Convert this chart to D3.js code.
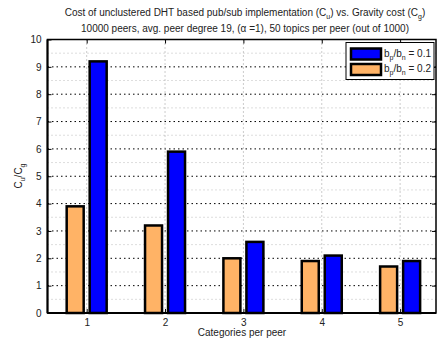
<!DOCTYPE html>
<html><head><meta charset="utf-8">
<script src="https://cdn.jsdelivr.net/npm/d3@7"></script>
<style>
body{margin:0;background:#fff;}
text{font-family:"Liberation Sans",Arial,Helvetica,sans-serif;fill:#222;}
</style></head>
<body>
<svg id="c" width="437" height="348"></svg>
<script>
const categories = [1, 2, 3, 4, 5];
const seriesNames = ["0.1", "0.2"];
const blueValues = [9.2, 5.9, 2.6, 2.1, 1.9];     // b_p/b_n = 0.1
const orangeValues = [3.9, 3.2, 2.0, 1.9, 1.7];   // b_p/b_n = 0.2
const yTicks = [0,1,2,3,4,5,6,7,8,9,10];
const minorTicks = [0.5,1.5,2.5,3.5,4.5,5.5,6.5,7.5,8.5,9.5];

const svg = d3.select("#c");
const L = 47.5, R = 436, T = 39.5, B = 313;
const x = d3.scaleLinear().domain([0.5, 5.5]).range([L, 439.3]);
const y = d3.scaleLinear().domain([0, 10]).range([B, T]);

// grid
const g = svg.append("g");
g.selectAll(".minor").data(minorTicks).enter().append("line")
  .attr("x1", L).attr("x2", R).attr("y1", d => y(d)).attr("y2", d => y(d))
  .attr("stroke", "#bbb").attr("stroke-width", 1).attr("stroke-dasharray", "1,3");
g.selectAll(".major").data(yTicks.slice(1,10)).enter().append("line")
  .attr("x1", L).attr("x2", R).attr("y1", d => y(d)).attr("y2", d => y(d))
  .attr("stroke", "#000").attr("stroke-width", 1).attr("stroke-dasharray", "1.5,3");
g.selectAll(".vg").data(categories).enter().append("line")
  .attr("x1", d => x(d)).attr("x2", d => x(d)).attr("y1", T).attr("y2", B)
  .attr("stroke", "#999").attr("stroke-width", 1).attr("stroke-dasharray", "1,3");

// bars
const bw = 17, off = 11.5;
const bars = svg.append("g");
bars.selectAll(".o").data(orangeValues).enter().append("rect")
  .attr("x", (d,i) => x(categories[i]) - off - bw/2).attr("width", bw)
  .attr("y", d => y(d)).attr("height", d => B - y(d))
  .attr("fill", "#ffb366").attr("stroke", "#000").attr("stroke-width", 2.5);
bars.selectAll(".b").data(blueValues).enter().append("rect")
  .attr("x", (d,i) => x(categories[i]) + off - bw/2).attr("width", bw)
  .attr("y", d => y(d)).attr("height", d => B - y(d))
  .attr("fill", "#0000ff").attr("stroke", "#000").attr("stroke-width", 2.5);

// frame
svg.append("rect").attr("x", L).attr("y", T).attr("width", R - L).attr("height", B - T)
  .attr("fill", "none").attr("stroke", "#000").attr("stroke-width", 1.5);
svg.append("line").attr("x1", L).attr("x2", L).attr("y1", T).attr("y2", B).attr("stroke", "#000").attr("stroke-width", 2);
svg.append("line").attr("x1", L).attr("x2", R).attr("y1", B).attr("y2", B).attr("stroke", "#000").attr("stroke-width", 2);

// axes (ticks inward)
const yAxis = d3.axisLeft(y).tickValues(yTicks).tickSize(-4).tickPadding(6).tickFormat(d3.format("d"));
const ya = svg.append("g").attr("transform", `translate(${L},0)`).call(yAxis);
ya.select(".domain").remove();
ya.selectAll("text").attr("font-size", 10).attr("fill", "#222");
svg.append("g").attr("transform", `translate(${R},0)`).call(d3.axisRight(y).tickValues(yTicks.slice(1,10)).tickSize(-4).tickFormat(""))
  .select(".domain").remove();
const xAxis = d3.axisBottom(x).tickValues(categories).tickSize(-4).tickPadding(6).tickFormat(d3.format("d"));
const xa = svg.append("g").attr("transform", `translate(0,${B})`).call(xAxis);
xa.select(".domain").remove();
xa.selectAll("text").attr("font-size", 10).attr("fill", "#222");
svg.append("g").attr("transform", `translate(0,${T})`).call(d3.axisTop(x).tickValues(categories).tickSize(-4).tickFormat(""))
  .select(".domain").remove();

// titles
const t1 = svg.append("text").attr("x", 245).attr("y", 16).attr("text-anchor", "middle").attr("font-size", 10);
t1.append("tspan").text("Cost of unclustered DHT based pub/sub implementation (C");
t1.append("tspan").attr("font-size", 7).attr("dy", 3).text("u");
t1.append("tspan").attr("dy", -3).text(") vs. Gravity cost (C");
t1.append("tspan").attr("font-size", 7).attr("dy", 3).text("g");
t1.append("tspan").attr("dy", -3).text(")");
svg.append("text").attr("x", 245).attr("y", 32).attr("text-anchor", "middle").attr("font-size", 10)
  .text("10000 peers, avg. peer degree 19, (\u03b1 =1), 50 topics per peer (out of 1000)");

svg.append("text").attr("x", 242).attr("y", 336).attr("text-anchor", "middle").attr("font-size", 10)
  .text("Categories per peer");

const yl = svg.append("text").attr("transform", "translate(22,176) rotate(-90)").attr("text-anchor", "middle").attr("font-size", 10);
yl.append("tspan").text("C");
yl.append("tspan").attr("font-size", 7).attr("dy", 3).text("u");
yl.append("tspan").attr("dy", -3).text("/C");
yl.append("tspan").attr("font-size", 7).attr("dy", 3).text("g");

// legend
const lg = svg.append("g");
lg.append("rect").attr("x", 346).attr("y", 42.5).attr("width", 88).attr("height", 37)
  .attr("fill", "#fff").attr("stroke", "#000").attr("stroke-width", 1);
const colors = ["#0000ff", "#ffb366"];
seriesNames.forEach((s, i) => {
  const yy = 48.5 + i * 15.5;
  lg.append("rect").attr("x", 351).attr("y", yy).attr("width", 30).attr("height", 11)
    .attr("fill", colors[i]).attr("stroke", "#000").attr("stroke-width", 2.5);
  const t = lg.append("text").attr("x", 384).attr("y", yy + 8).attr("font-size", 10);
  t.append("tspan").text("b");
  t.append("tspan").attr("font-size", 7).attr("dy", 3).text("p");
  t.append("tspan").attr("dy", -3).text("/b");
  t.append("tspan").attr("font-size", 7).attr("dy", 3).text("n");
  t.append("tspan").attr("dy", -3).text(" = " + s);
});
</script>
</body></html>
